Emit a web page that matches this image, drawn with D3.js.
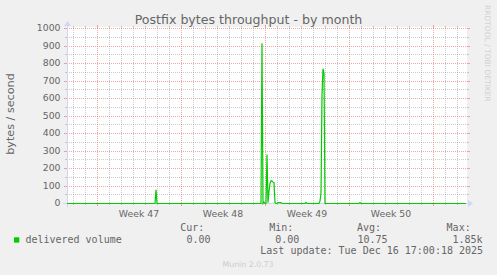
<!DOCTYPE html>
<html><head><meta charset="utf-8">
<script src="https://cdn.jsdelivr.net/npm/d3@7"></script>
<style>body{margin:0;background:#f0f0f0}svg{display:block}</style>
</head><body><svg id="c" width="497" height="275"></svg>
<script>
// ---------- data ----------
const title = "Postfix bytes throughput - by month";
const yAxisLabel = "bytes / second";
const sideLabel = "RRDTOOL / TOBI OETIKER";
const footer = "Munin 2.0.73";
const domainStart = "2025-11-13 12:00";
const domainEnd = "2025-12-16 20:00";
const yTicks = [0, 100, 200, 300, 400, 500, 600, 700, 800, 900, 1000];
const yMinorTicks = [50, 150, 250, 350, 450, 550, 650, 750, 850, 950];
const weekGridTimes = ["2025-11-16 00:00", "2025-11-23 00:00", "2025-11-30 00:00", "2025-12-07 00:00", "2025-12-14 00:00"];
const weekLabelTimes = ["2025-11-19 12:00", "2025-11-26 12:00", "2025-12-03 12:00", "2025-12-10 12:00"];
const weekLabels = ["Week 47", "Week 48", "Week 49", "Week 50"];
const seriesName = "delivered volume";
const times = [
  "2025-11-13 12:00", "2025-11-20 20:00", "2025-11-20 22:00", "2025-11-21 00:00",
  "2025-11-29 16:00", "2025-11-29 18:00", "2025-11-29 20:00", "2025-11-29 22:00",
  "2025-11-30 00:00", "2025-11-30 02:00", "2025-11-30 04:00", "2025-11-30 06:00",
  "2025-11-30 08:00", "2025-11-30 10:00", "2025-11-30 12:00", "2025-11-30 14:00",
  "2025-11-30 16:00", "2025-11-30 18:00", "2025-11-30 20:00", "2025-11-30 22:00",
  "2025-12-01 00:00", "2025-12-01 02:00", "2025-12-01 04:00", "2025-12-01 06:00",
  "2025-12-01 08:00", "2025-12-01 10:00", "2025-12-03 08:00", "2025-12-03 10:00",
  "2025-12-03 12:00", "2025-12-04 12:00", "2025-12-04 14:00", "2025-12-04 16:00",
  "2025-12-04 18:00", "2025-12-04 20:00", "2025-12-04 22:00", "2025-12-05 00:00",
  "2025-12-07 20:00", "2025-12-07 22:00", "2025-12-08 00:00", "2025-12-16 18:00"
];
const values = [
  0, 0, 78, 0,
  0, 915, 0, 8,
  0, 0, 280, 5,
  70, 115, 130, 128,
  122, 118, 4, 0,
  0, 5, 5, 5,
  5, 0, 0, 6,
  0, 0, 15, 60,
  620, 770, 745, 0,
  0, 5, 0, 0
];
const statHeaders = ["Cur:", "Min:", "Avg:", "Max:"];
const statValues = ["0.00", "0.00", "10.75", "1.85k"];
const lastUpdate = "Last update: Tue Dec 16 17:00:18 2025";

// ---------- drawing ----------
const parse = d3.utcParse("%Y-%m-%d %H:%M");
const svg = d3.select("#c");
const L = 67, R = 467, T = 28, B = 203;
const x = d3.scaleUtc().domain([parse(domainStart), parse(domainEnd)]).range([L, R]);
const y = d3.scaleLinear().domain([0, 1000]).range([B, T]);
const sans = "DejaVu Sans, sans-serif", mono = "DejaVu Sans Mono, monospace";
const fontCol = "#666666", axisCol = "#CFD6F8";
const minorCol = "rgba(140,140,140,0.45)", majorCol = "rgba(225,110,110,0.6)";

svg.append("rect").attr("width", 497).attr("height", 275).attr("fill", "#f0f0f0");
svg.append("rect").attr("x", L).attr("y", T - 1).attr("width", R - L).attr("height", B - T + 1).attr("fill", "#fff");

const g = svg.append("g").attr("shape-rendering", "crispEdges");
// minor vertical (daily)
const days = d3.utcDay.range(x.domain()[0], x.domain()[1]);
const weekSet = new Set(weekGridTimes.map(s => +parse(s)));
days.filter(d => !weekSet.has(+d)).forEach(d => {
  const px = Math.round(x(d)) + 0.5;
  g.append("line").attr("x1", px).attr("x2", px).attr("y1", T).attr("y2", B)
    .attr("stroke", minorCol).attr("stroke-dasharray", "1,1");
  g.append("line").attr("x1", px).attr("x2", px).attr("y1", B).attr("y2", B + 2).attr("stroke", minorCol);
  g.append("line").attr("x1", px).attr("x2", px).attr("y1", T - 2).attr("y2", T).attr("stroke", minorCol);
});
// minor horizontal
yMinorTicks.forEach(v => {
  const py = Math.round(y(v)) + 0.5;
  g.append("line").attr("x1", L).attr("x2", R).attr("y1", py).attr("y2", py)
    .attr("stroke", minorCol).attr("stroke-dasharray", "1,1");
  g.append("line").attr("x1", L - 2).attr("x2", L).attr("y1", py).attr("y2", py).attr("stroke", minorCol);
  g.append("line").attr("x1", R).attr("x2", R + 2).attr("y1", py).attr("y2", py).attr("stroke", minorCol);
});
// major vertical (weeks)
weekGridTimes.forEach(s => {
  const px = Math.round(x(parse(s))) + 0.5;
  g.append("line").attr("x1", px).attr("x2", px).attr("y1", T).attr("y2", B)
    .attr("stroke", majorCol).attr("stroke-dasharray", "1,1");
  g.append("line").attr("x1", px).attr("x2", px).attr("y1", B).attr("y2", B + 3).attr("stroke", majorCol);
  g.append("line").attr("x1", px).attr("x2", px).attr("y1", T - 3).attr("y2", T).attr("stroke", majorCol);
});
// major horizontal
yTicks.forEach(v => {
  const py = Math.round(y(v)) + 0.5;
  g.append("line").attr("x1", L).attr("x2", R).attr("y1", py).attr("y2", py)
    .attr("stroke", majorCol).attr("stroke-dasharray", "1,1");
  g.append("line").attr("x1", L - 3).attr("x2", L).attr("y1", py).attr("y2", py).attr("stroke", majorCol);
  g.append("line").attr("x1", R).attr("x2", R + 3).attr("y1", py).attr("y2", py).attr("stroke", majorCol);
});

// y tick labels
yTicks.forEach(v => {
  svg.append("text").attr("x", 60.5).attr("y", y(v) + 3.4).attr("text-anchor", "end")
    .attr("font-family", sans).attr("font-size", 9.3).attr("fill", fontCol).text(v);
});
// week labels
weekLabels.forEach((t, i) => {
  svg.append("text").attr("x", x(parse(weekLabelTimes[i]))).attr("y", 216.5).attr("text-anchor", "middle")
    .attr("font-family", sans).attr("font-size", 9.3).attr("fill", fontCol).text(t);
});

// axes
svg.append("line").attr("x1", L - 4).attr("x2", R + 4).attr("y1", B + 0.5).attr("y2", B + 0.5)
  .attr("stroke", axisCol).attr("shape-rendering", "crispEdges");
svg.append("line").attr("x1", L + 0.5).attr("x2", L + 0.5).attr("y1", B + 4).attr("y2", T - 4)
  .attr("stroke", axisCol).attr("shape-rendering", "crispEdges");
svg.append("path").attr("d", `M${R + 1},${B - 3}L${R + 1},${B + 4}L${R + 6},${B + 0.5}Z`).attr("fill", axisCol);
svg.append("path").attr("d", `M${L - 3},${T - 2}L${L + 4},${T - 2}L${L + 0.5},${T - 7}Z`).attr("fill", axisCol);

// data line
const pts = times.map((t, i) => [parse(t), values[i]]);
svg.append("path").datum(pts)
  .attr("d", d3.line().x(d => x(d[0])).y(d => y(d[1]) + 0.5))
  .attr("fill", "none").attr("stroke", "#00cc00").attr("stroke-width", 1.2).attr("stroke-linejoin", "miter");

// title
svg.append("text").attr("x", 248.5).attr("y", 24).attr("text-anchor", "middle")
  .attr("font-family", sans).attr("font-size", 12.6).attr("fill", fontCol).text(title);
// y axis label
svg.append("text").attr("transform", "translate(14,114) rotate(-90)").attr("text-anchor", "middle")
  .attr("font-family", sans).attr("font-size", 11.2).attr("fill", fontCol).text(yAxisLabel);
// side label
svg.append("text").attr("transform", "translate(484.5,5) rotate(90)").attr("text-anchor", "start")
  .attr("font-family", sans).attr("font-size", 7.5).attr("fill", "#d0d0d0").text(sideLabel);

// legend
svg.append("rect").attr("x", 14).attr("y", 237.3).attr("width", 5.3).attr("height", 5.3).attr("fill", "#00cc00");
const tm = (tx, xx, yy) => svg.append("text").attr("x", xx).attr("y", yy)
  .attr("font-family", mono).attr("font-size", 10).attr("fill", fontCol).text(tx);
tm(seriesName, 25.4, 242.6);
const headerX = [180.3, 269.3, 357, 446.6];
const valueX = [186.5, 275.3, 357.5, 452.5];
statHeaders.forEach((h, i) => tm(h, headerX[i], 230.6));
statValues.forEach((v, i) => tm(v, valueX[i], 242.6));
tm(lastUpdate, 260.3, 253.6);
svg.append("text").attr("x", 222.5).attr("y", 266.7).attr("font-family", sans).attr("font-size", 7.8)
  .attr("fill", "#cccccc").text(footer);
</script></body></html>
